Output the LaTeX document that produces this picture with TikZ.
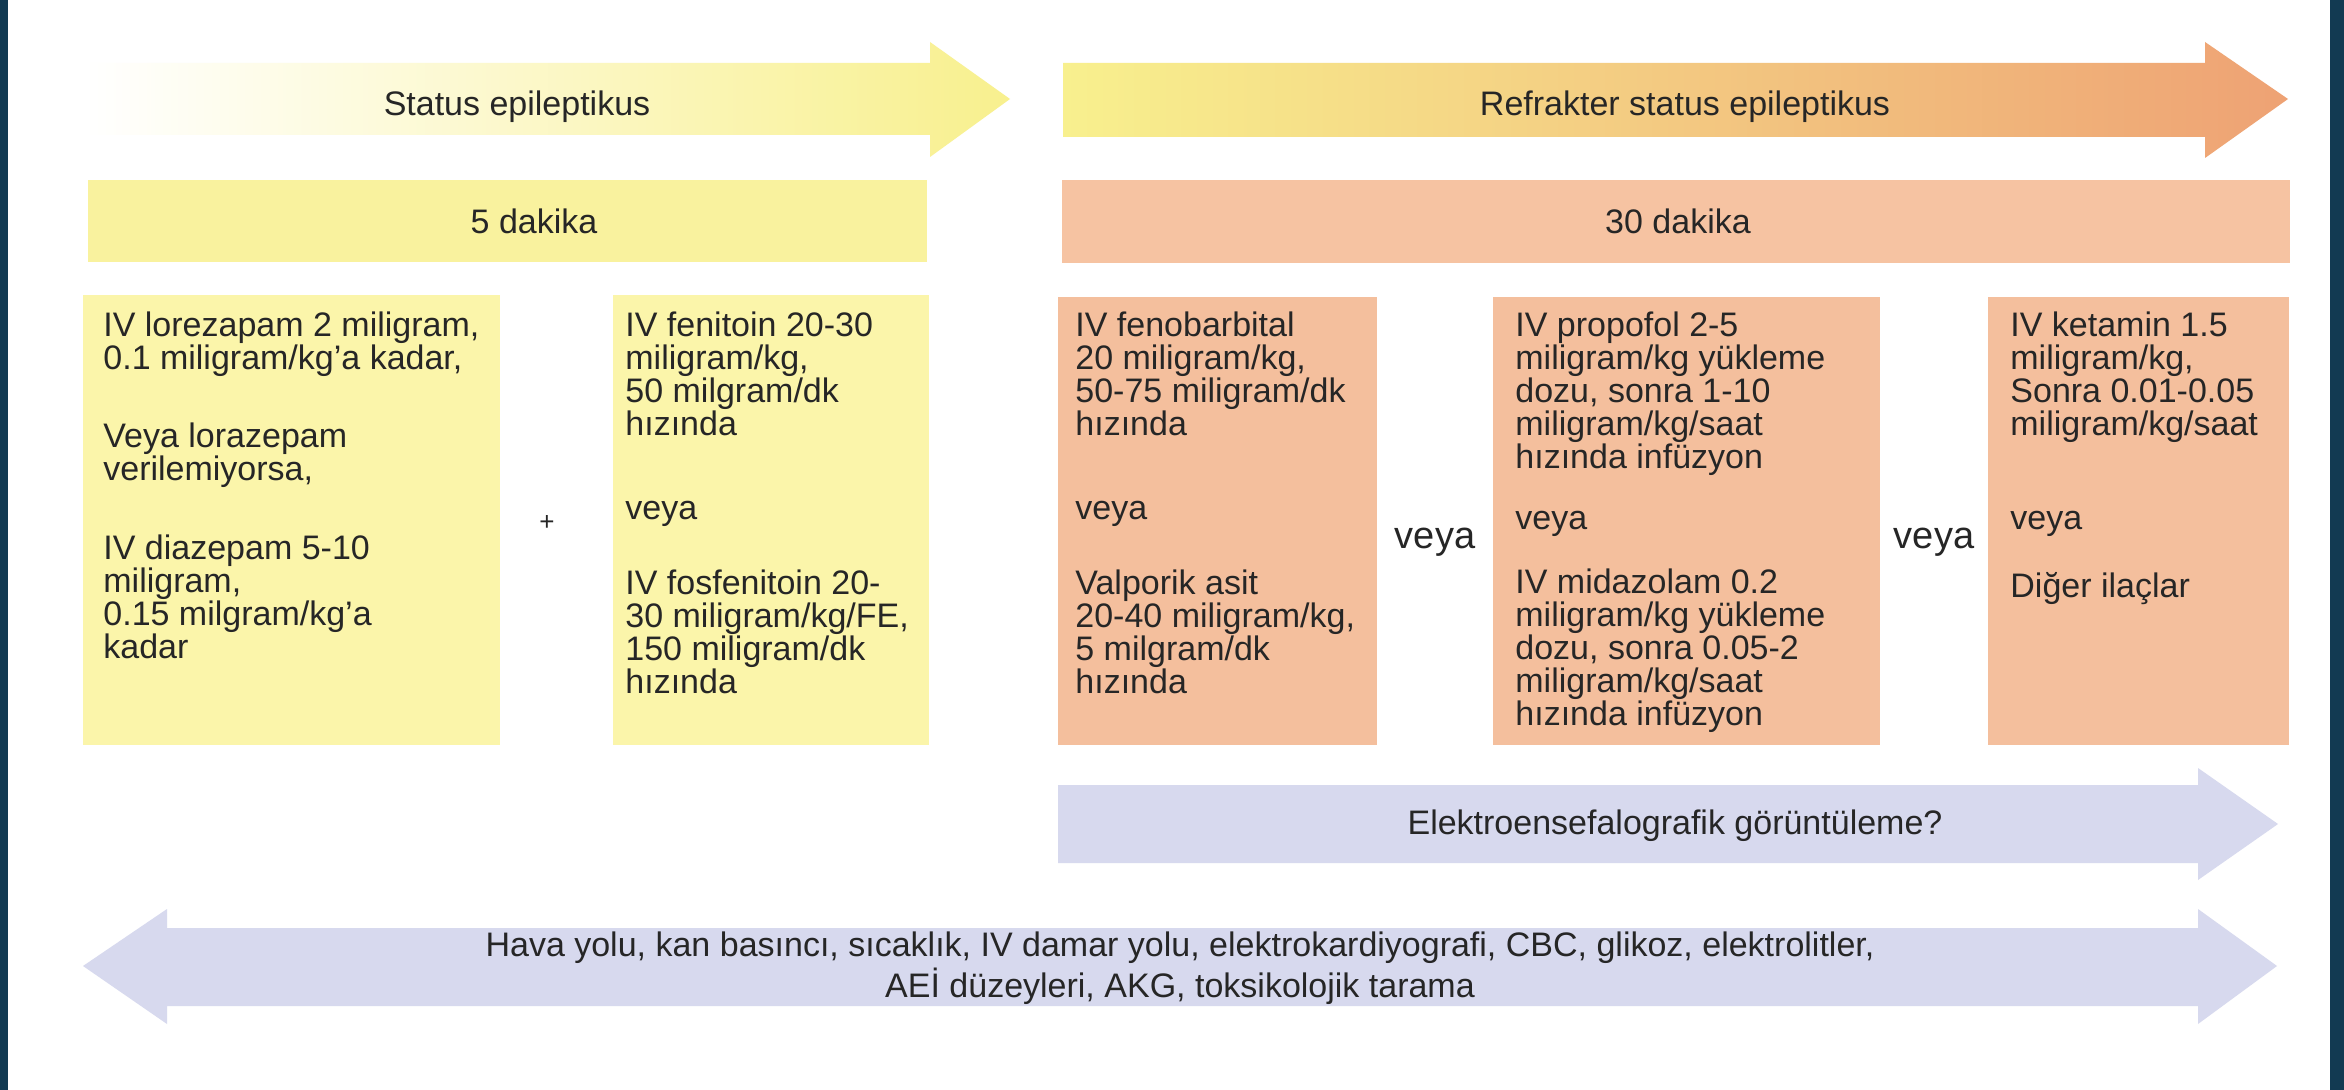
\documentclass[tikz,border=0pt]{standalone}
\usepackage{fontspec}
\setmainfont{Liberation Sans}
\definecolor{frame}{HTML}{123A52}
\definecolor{ylw}{HTML}{FBF5AA}
\definecolor{ylwhead}{HTML}{F9F29E}
\definecolor{ylwarrow}{HTML}{F8F08E}
\definecolor{org}{HTML}{F4BF9D}
\definecolor{orghead}{HTML}{F6C3A2}
\definecolor{orgmid}{HTML}{F3C98C}
\definecolor{orgarrow}{HTML}{EEA274}
\definecolor{lav}{HTML}{D7D9EE}
\definecolor{txt}{HTML}{262626}
\begin{document}
\begin{tikzpicture}[x=0.5pt,y=-0.5pt,
  box/.style={fill=#1, draw=none, inner sep=0, outer sep=0, anchor=north west},
  boxtext/.style={inner sep=0, anchor=north west, align=left, text=txt,
    font=\fontsize{17}{16.5}\selectfont},
  lbl/.style={inner sep=0, text=txt, font=\fontsize{17}{19}\selectfont},
  orword/.style={inner sep=0, text=txt, font=\fontsize{19}{21}\selectfont}
]
% background and dark frame
\fill[frame] (0,0) rectangle (2344,1090);
\fill[white] (8,0) rectangle (2330,1090);
\useasboundingbox (0,0) rectangle (2344,1090);

% top arrows
\shade[left color=white, middle color=ylwarrow, right color=ylwarrow]
  (85,63) -- (930,63) -- (930,42) -- (1010,99) -- (930,157) -- (930,135) -- (85,135) -- cycle;
\shade[left color=ylwarrow, middle color=orgmid, right color=orgarrow]
  (1063,63) -- (2205,63) -- (2205,42) -- (2288,99) -- (2205,158) -- (2205,137) -- (1063,137) -- cycle;
\node (t1) [lbl] at (517,107) {Status epileptikus};
\node (t2) [lbl] at (1685,107) {Refrakter status epileptikus};

% header bars
\node (h5) [box=ylwhead, minimum width=419.5pt, minimum height=41pt] at (88,180) {};
\node (h30) [box=orghead, minimum width=614pt, minimum height=41.5pt] at (1062,180) {};
\node (l5) [lbl] at (534,221) {5 dakika};
\node (l30) [lbl] at (1678,221) {30 dakika};

% content boxes
\node (bA) [box=ylw, minimum width=208.5pt, minimum height=225pt] at (83,295) {};
\node (bB) [box=ylw, minimum width=158pt, minimum height=225pt] at (613,295) {};
\node (o1) [box=org, minimum width=159.5pt, minimum height=224pt] at (1058,297) {};
\node (o2) [box=org, minimum width=193.5pt, minimum height=224pt] at (1493,297) {};
\node (o3) [box=org, minimum width=150.5pt, minimum height=224pt] at (1988,297) {};

\node (tA) [boxtext] at (103,311) {IV lorezapam 2 miligram,\\0.1 miligram/kg’a kadar,\\[22.75pt]Veya lorazepam\\verilemiyorsa,\\[22.75pt]IV diazepam 5-10\\miligram,\\0.15 milgram/kg’a\\kadar};
\node (tB) [boxtext] at (625,311) {IV fenitoin 20-30\\miligram/kg,\\50 milgram/dk\\hızında\\[25.75pt]veya\\[21pt]IV fosfenitoin 20-\\30 miligram/kg/FE,\\150 miligram/dk\\hızında};
\node (plus) [inner sep=0, text=txt, font=\fontsize{13}{13}\selectfont] at (547,523) {+};

\node (tO1) [boxtext] at (1075,311) {IV fenobarbital\\20 miligram/kg,\\50-75 miligram/dk\\hızında\\[25.75pt]veya\\[21pt]Valporik asit\\20-40 miligram/kg,\\5 milgram/dk\\hızında};
\node (tO2) [boxtext] at (1515,311) {IV propofol 2-5\\miligram/kg yükleme\\dozu, sonra 1-10\\miligram/kg/saat\\hızında infüzyon\\[14pt]veya\\[15.5pt]IV midazolam 0.2\\miligram/kg yükleme\\dozu, sonra 0.05-2\\miligram/kg/saat\\hızında infüzyon};
\node (tO3) [boxtext] at (2010,311) {IV ketamin 1.5\\miligram/kg,\\Sonra 0.01-0.05\\miligram/kg/saat\\[30.5pt]veya\\[17.75pt]Diğer ilaçlar};

\node (or1) [orword] at (1435,542) {veya};
\node (or2) [orword] at (1934,542) {veya};

% EEG arrow
\fill[lav] (1058,785) -- (2198,785) -- (2198,768) -- (2278,824) -- (2198,880) -- (2198,863) -- (1058,863) -- cycle;
\node (eeg) [lbl] at (1675,826) {Elektroensefalografik görüntüleme?};

% bottom double arrow
\fill[lav] (83,966) -- (167,909) -- (167,928) -- (2198,928) -- (2198,909) -- (2277,966) -- (2198,1024) -- (2198,1006) -- (167,1006) -- (167,1024) -- cycle;
\node (bot) [lbl, align=center, font=\fontsize{17}{20.5}\selectfont] at (1180,968) {Hava yolu, kan basıncı, sıcaklık, IV damar yolu, elektrokardiyografi, CBC, glikoz, elektrolitler,\\AEİ düzeyleri, AKG, toksikolojik tarama};
\end{tikzpicture}
\end{document}
